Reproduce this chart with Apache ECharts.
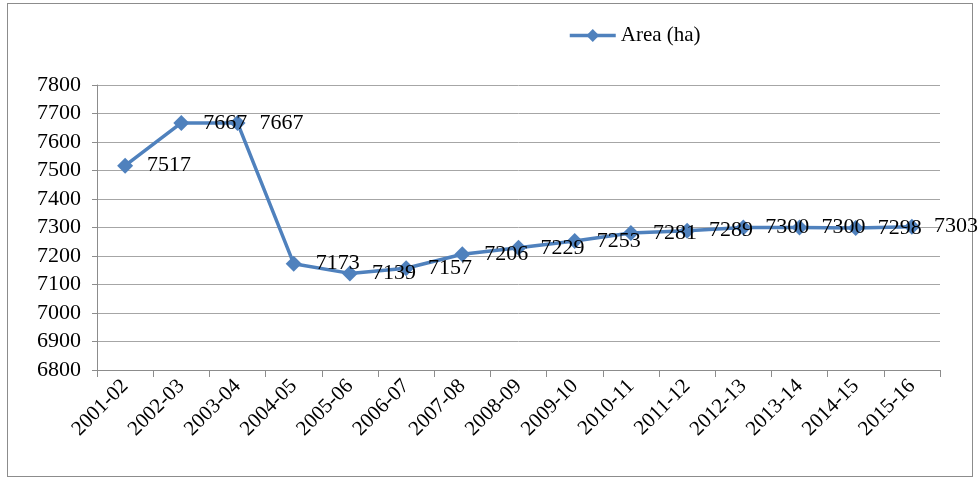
<!DOCTYPE html>
<html>
<head>
<meta charset="utf-8">
<script src="https://cdn.jsdelivr.net/npm/echarts@6/dist/echarts.min.js"></script>
<style>
  html, body { margin: 0; padding: 0; background: #fff; }
  .chart-container { width: 979px; height: 481px; position: relative; }
  .frame { position: absolute; left: 7px; top: 3px; width: 966px; height: 474px; border: 1.5px solid #8c8c8c; box-sizing: border-box; }
  .chart { position: absolute; left: 0; top: 0; width: 979px; height: 481px; }
</style>
</head>
<body>
<div class="chart-container">
  <div class="frame"></div>
  <div class="chart" id="chart"></div>
</div>
<script>
const categories = ['2001-02', '2002-03', '2003-04', '2004-05', '2005-06', '2006-07', '2007-08',
  '2008-09', '2009-10', '2010-11', '2011-12', '2012-13', '2013-14', '2014-15', '2015-16']
const areaValues = [7517, 7667, 7667, 7173, 7139, 7157, 7206, 7229, 7253, 7281, 7289, 7300, 7300, 7298, 7303]
const seriesName = 'Area (ha)'

const font = '"Liberation Serif", "DejaVu Serif", serif'
const instance = echarts.init(document.getElementById('chart'))

const option = {
  animation: false,
  textStyle: { fontFamily: font },
  legend: {
    left: 563,
    top: 20,
    itemWidth: 46,
    itemHeight: 16,
    itemGap: 6,
    lineStyle: { width: 3.5 },
    textStyle: { fontFamily: font, fontSize: 21, color: '#000' },
    data: [seriesName]
  },
  grid: {
    left: 97,
    right: 39,
    top: 85,
    bottom: 111,
    containLabel: false
  },
  xAxis: {
    type: 'category',
    boundaryGap: true,
    data: categories,
    axisLine: { lineStyle: { color: '#8c8c8c', width: 1 } },
    axisTick: { show: true, alignWithLabel: false, length: 7, lineStyle: { color: '#8c8c8c' } },
    axisLabel: {
      interval: 0,
      rotate: 45,
      margin: 13,
      fontFamily: font,
      fontSize: 21,
      color: '#000'
    },
    splitLine: { show: false }
  },
  yAxis: {
    type: 'value',
    min: 6800,
    max: 7800,
    interval: 100,
    axisLine: { show: true, lineStyle: { color: '#8c8c8c', width: 1 } },
    axisTick: { show: true, length: 5, lineStyle: { color: '#8c8c8c' } },
    axisLabel: {
      margin: 16,
      fontFamily: font,
      fontSize: 22,
      color: '#000',
      formatter: v => String(v)
    },
    splitLine: { show: true, lineStyle: { color: '#a6a6a6', width: 1 } }
  },
  series: [
    {
      name: seriesName,
      type: 'line',
      data: areaValues,
      symbol: 'diamond',
      symbolSize: 16,
      lineStyle: { color: '#4F81BD', width: 3.5 },
      itemStyle: { color: '#4F81BD' },
      label: {
        show: true,
        position: 'right',
        distance: 14,
        fontFamily: font,
        fontSize: 22,
        color: '#000'
      }
    }
  ]
}

instance.setOption(option)
</script>
</body>
</html>
